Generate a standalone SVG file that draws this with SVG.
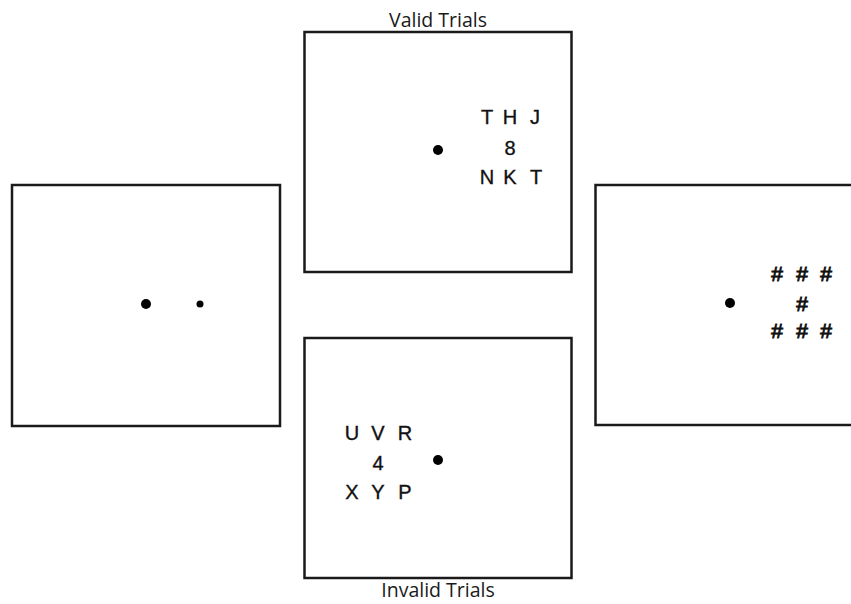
<svg xmlns="http://www.w3.org/2000/svg" width="851" height="604" viewBox="0 0 851 604">
<style>
.box{fill:#fff;stroke:#1a1a1a;stroke-width:2.5}
.lbl{font-family:"Open Sans","Liberation Sans",sans-serif;font-size:19.5px;fill:#1a1a1a;text-anchor:middle}
.ch{font-family:"Liberation Sans",Arial,sans-serif;font-size:20px;fill:#111;stroke:#111;stroke-width:0.35;text-anchor:middle}
.hs{font-family:"Liberation Sans",Arial,sans-serif;font-size:21px;fill:#111;stroke:#111;stroke-width:0.9;text-anchor:middle}
.dot{fill:#000}
</style>
<rect width="851" height="604" fill="#fff"/>
<g id="cue">
<rect class="box" x="12" y="185" width="268" height="241"/>
<circle class="dot" cx="146" cy="304" r="5"/>
<circle class="dot" cx="200" cy="304" r="3.5"/>
</g>
<g id="valid">
<rect class="box" x="304.5" y="32" width="267" height="240"/>
<text class="lbl" x="438" y="27">Valid Trials</text>
<circle class="dot" cx="438" cy="150" r="5"/>
<text class="ch" x="487" y="124">T</text>
<text class="ch" x="510" y="124">H</text>
<text class="ch" x="535" y="124">J</text>
<text class="ch" x="510" y="155">8</text>
<text class="ch" x="487" y="184">N</text>
<text class="ch" x="510" y="184">K</text>
<text class="ch" x="536" y="184">T</text>
</g>
<g id="invalid">
<rect class="box" x="304.5" y="338" width="267" height="240"/>
<text class="lbl" x="438" y="597">Invalid Trials</text>
<circle class="dot" cx="438" cy="460" r="5"/>
<text class="ch" x="352" y="440">U</text>
<text class="ch" x="378" y="440">V</text>
<text class="ch" x="405" y="440">R</text>
<text class="ch" x="378" y="470">4</text>
<text class="ch" x="352" y="499">X</text>
<text class="ch" x="378" y="499">Y</text>
<text class="ch" x="405" y="499">P</text>
</g>
<g id="mask">
<rect class="box" x="595.5" y="185" width="270" height="240"/>
<circle class="dot" cx="730" cy="303" r="5"/>
<text class="hs" x="777" y="281">#</text>
<text class="hs" x="802" y="281">#</text>
<text class="hs" x="826" y="281">#</text>
<text class="hs" x="802" y="311">#</text>
<text class="hs" x="777" y="338">#</text>
<text class="hs" x="802" y="338">#</text>
<text class="hs" x="826" y="338">#</text>
</g>
<g id="connectors"></g>
</svg>
